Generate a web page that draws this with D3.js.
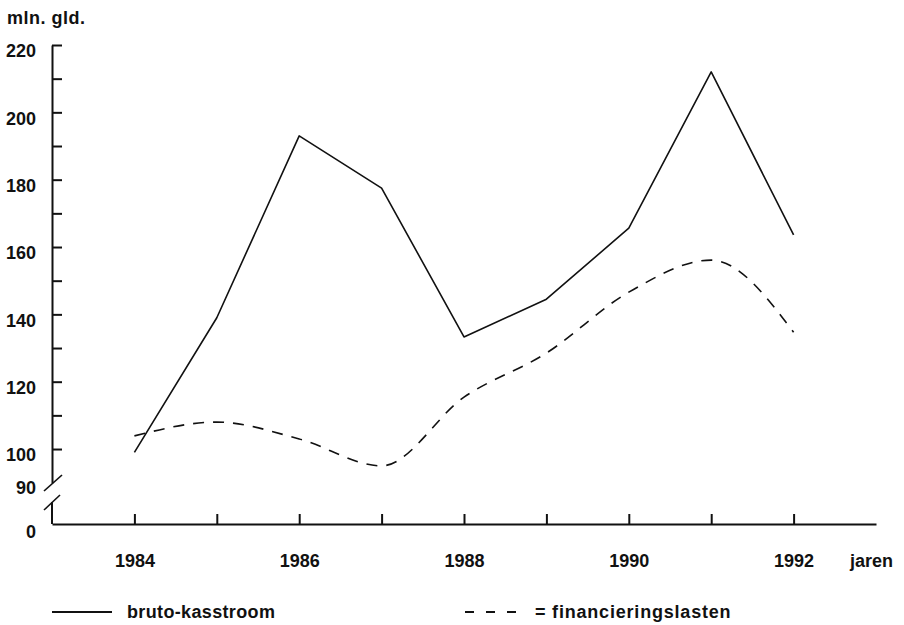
<!DOCTYPE html>
<html>
<head>
<meta charset="utf-8">
<script src="https://cdn.jsdelivr.net/npm/d3@7"></script>
<style>
  html, body { margin: 0; padding: 0; background: #fff; }
  svg text { font-family: "Liberation Sans", Arial, Helvetica, sans-serif; font-weight: bold; font-size: 18px; fill: #111; }
</style>
</head>
<body>
<svg id="chart" width="904" height="625"></svg>
<script>
const years = [1984, 1985, 1986, 1987, 1988, 1989, 1990, 1991, 1992];
const brutoKasstroom = [99, 139, 193, 177.5, 133.3, 144.5, 165.6, 212, 163.6];
const financieringslasten = [103.9, 108, 103, 95, 115.4, 128.5, 146.6, 156.1, 134.7];
const yTicks = [100, 110, 120, 130, 140, 150, 160, 170, 180, 190, 200, 210, 220];
const yLabelTicks = [100, 120, 140, 160, 180, 200, 220];
const xLabelYears = [1984, 1986, 1988, 1990, 1992];
const yAxisTitle = "mln. gld.";
const xAxisTitle = "jaren";
const legendLabels = ["bruto-kasstroom", "= financieringslasten"];

const svg = d3.select("#chart");
const axisX = 52, baseY = 524;

const x = d3.scaleLinear().domain([1983, 1993]).range([axisX, 876]);
const y = d3.scaleLinear().domain([90, 220]).range([482.7, 45]);

// Y axis (upper part, above break)
const yAxis = d3.axisLeft(y).tickValues(yTicks).tickSizeInner(-10).tickSizeOuter(0)
  .tickFormat(d => yLabelTicks.includes(d) ? d : "").tickPadding(16);
const gy = svg.append("g").attr("transform", `translate(${axisX},0)`).call(yAxis);
gy.select(".domain").attr("stroke", "#111").attr("stroke-width", 2);
gy.selectAll(".tick line").attr("stroke", "#111").attr("stroke-width", 2);
gy.selectAll(".tick text").attr("dy", "0.32em").attr("y", 6)
  .style("font-family", "Liberation Sans, Arial, sans-serif").style("font-size", "18px").style("font-weight", "bold").attr("fill", "#111");

// axis break
const brk = svg.append("g").attr("stroke", "#111").attr("stroke-width", 1.6).attr("fill", "none");
brk.append("line").attr("x1", 44).attr("y1", 491).attr("x2", 62).attr("y2", 475);
brk.append("line").attr("x1", 44).attr("y1", 510).attr("x2", 60).attr("y2", 495);
svg.append("line").attr("x1", axisX).attr("x2", axisX).attr("y1", 502).attr("y2", baseY)
  .attr("stroke", "#111").attr("stroke-width", 2);

svg.append("text").attr("x", 36).attr("y", y(90) + 6).attr("dy", "0.32em").attr("text-anchor", "end").text("90");
svg.append("text").attr("x", 36).attr("y", baseY + 8).attr("dy", "0.32em").attr("text-anchor", "end").text("0");

// X axis
const xAxis = d3.axisBottom(x).tickValues(years).tickSizeInner(-10).tickSizeOuter(0)
  .tickFormat(d => xLabelYears.includes(d) ? d : "");
const gx = svg.append("g").attr("transform", `translate(0,${baseY})`).call(xAxis);
gx.select(".domain").attr("stroke", "#111").attr("stroke-width", 2);
gx.selectAll(".tick line").attr("stroke", "#111").attr("stroke-width", 2);
gx.selectAll(".tick text").attr("y", 43).attr("dy", 0)
  .style("font-family", "Liberation Sans, Arial, sans-serif").style("font-size", "18px").style("font-weight", "bold").attr("fill", "#111");

svg.append("text").attr("x", 850).attr("y", 567).text(xAxisTitle);
svg.append("text").attr("x", 7).attr("y", 24).style("letter-spacing", "0.5px").text(yAxisTitle);

// lines
const line = d3.line().x((d, i) => x(years[i])).y(d => y(d));
svg.append("path").datum(brutoKasstroom).attr("d", line)
  .attr("fill", "none").attr("stroke", "#111").attr("stroke-width", 1.6).attr("stroke-linejoin", "round");
svg.append("path").datum(financieringslasten).attr("d", line.curve(d3.curveMonotoneX))
  .attr("fill", "none").attr("stroke", "#111").attr("stroke-width", 1.6).attr("stroke-dasharray", "11,9");

// legend
const lg = svg.append("g");
lg.append("line").attr("x1", 52).attr("x2", 112).attr("y1", 612).attr("y2", 612).attr("stroke", "#111").attr("stroke-width", 1.8);
lg.append("text").attr("x", 127).attr("y", 618).style("letter-spacing", "0.35px").text(legendLabels[0]);
lg.append("line").attr("x1", 465).attr("x2", 517).attr("y1", 612).attr("y2", 612).attr("stroke", "#111").attr("stroke-width", 1.8).attr("stroke-dasharray", "9,12");
lg.append("text").attr("x", 535).attr("y", 618).style("letter-spacing", "0.8px").text(legendLabels[1]);
</script>
</body>
</html>
